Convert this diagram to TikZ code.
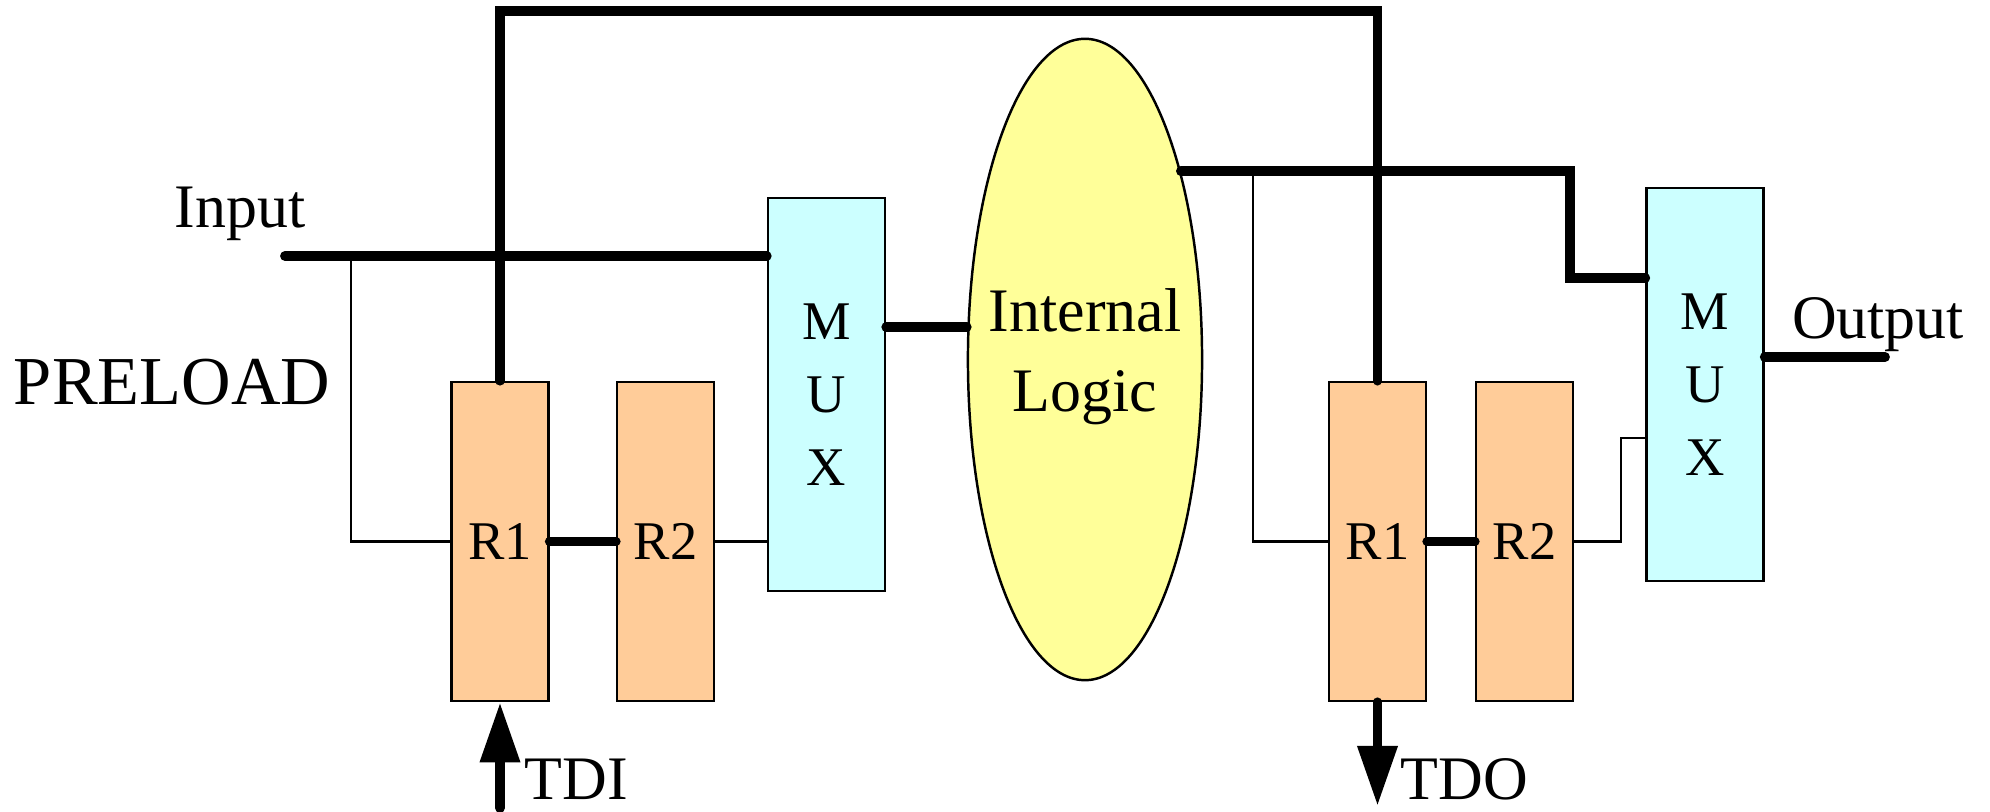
\documentclass[tikz,border=0pt]{standalone}
\usepackage{fontspec}
\setmainfont{Liberation Serif}
\usepackage{tikz}
\usetikzlibrary{arrows.meta,calc,shapes.geometric}
\definecolor{BsPeach}{RGB}{255,204,153}
\definecolor{BsCyan}{RGB}{204,255,255}
\definecolor{BsYellow}{RGB}{255,255,153}
\tikzset{
  bs/reg/.style={
    draw=black,
    line width=0.7pt,
    fill=BsPeach,
    minimum width=0.97cm,
    minimum height=3.19cm,
    inner sep=0pt,
    font=\fontsize{15.5}{18}\selectfont
  },
  bs/mux/.style={
    draw=black,
    line width=0.7pt,
    fill=BsCyan,
    align=center,
    minimum width=1.17cm,
    minimum height=3.93cm,
    inner sep=0pt,
    font=\fontsize{15.5}{20.7}\selectfont
  },
  bs/logic/.style={
    ellipse,
    draw=black,
    line width=0.7pt,
    fill=BsYellow,
    minimum width=2.34cm,
    minimum height=6.41cm,
    inner sep=0pt
  },
  bs/logictext/.style={align=center, inner sep=0pt, font=\fontsize{17.6}{22.7}\selectfont},
  bs/label/.style={inner sep=0pt, font=\fontsize{17.6}{21}\selectfont},
  bs/bus/.style={line width=2.8pt, line cap=round},
  bs/wire/.style={line width=0.6pt},
  bs/arrow/.style={-{Triangle[length=0.6cm,width=0.38cm]}, line width=2.8pt, line cap=round}
}
\begin{document}
\begin{tikzpicture}[x=0.01cm,y=0.01cm]
  \useasboundingbox (0,0) rectangle (1990,812);
  \node[bs/reg] (r1a) at (500,270.5) {R1};
  \node[bs/reg] (r2a) at (665.5,270.5) {R2};
  \node[bs/mux] (muxa) at (826.5,417.5) {M\\U\\X};
  \node[bs/logic] (logic) at (1085,452.5) {};
  \node[bs/logictext] (logictxt) at (1085,455) {Internal\\Logic};
  \node[bs/reg] (r1b) at (1377.5,270.5) {R1};
  \node[bs/reg] (r2b) at (1524.5,270.5) {R2};
  \node[bs/mux] (muxb) at (1705,427.5) {M\\U\\X};
  \node[bs/label,anchor=base] (inputlbl) at (240,584) {Input};
  \node[bs/label,anchor=base,font=\fontsize{19.5}{22}\selectfont] (preloadlbl) at (172,407) {PRELOAD};
  \node[bs/label,anchor=base] (outputlbl) at (1878,473) {Output};
  \node[bs/label,anchor=base west] (tdilbl) at (524,12) {TDI};
  \node[bs/label,anchor=base west] (tdolbl) at (1400,12) {TDO};
  \coordinate (inp) at (285,556);
  \coordinate (tapa) at (351,556);
  \coordinate (tapb) at (1253,641);
  \coordinate (loop) at (940,801);
  \coordinate (bend) at (1570,534);
  \coordinate (kink) at (1621,374);
  \coordinate (outend) at (1885,455);
  \coordinate (tdi) at (500,4);
  \coordinate (tdo) at (1377.5,6);
  \coordinate (m1o) at ($(muxa.north east)!0.33!(muxa.south east)$);
  \draw[bs/wire] (tapa) |- (r1a.west);
  \draw[bs/wire] (r2a.east) -- (r2a.east -| muxa.west);
  \draw[bs/wire] (tapb) |- (r1b.west);
  \draw[bs/wire] (r2b.east) -| (kink) -- (kink -| muxb.west);
  \draw[bs/bus] (inp) -- (inp -| muxa.west);
  \draw[bs/bus] (r1a.north) |- (loop) -| (r1b.north);
  \draw[bs/bus] (r1a.east) -- (r2a.west);
  \draw[bs/bus] (r1b.east) -- (r2b.west);
  \draw[bs/bus] (m1o) -- (m1o -| logic.west);
  \draw[bs/bus] (logic.63.5) -| (bend) -- (bend -| muxb.west);
  \draw[bs/bus] (outend -| muxb.east) -- (outend);
  \draw[bs/arrow] (tdi) -- (r1a.south);
  \draw[bs/arrow] (r1b.south) -- (tdo);
\end{tikzpicture}
\end{document}
